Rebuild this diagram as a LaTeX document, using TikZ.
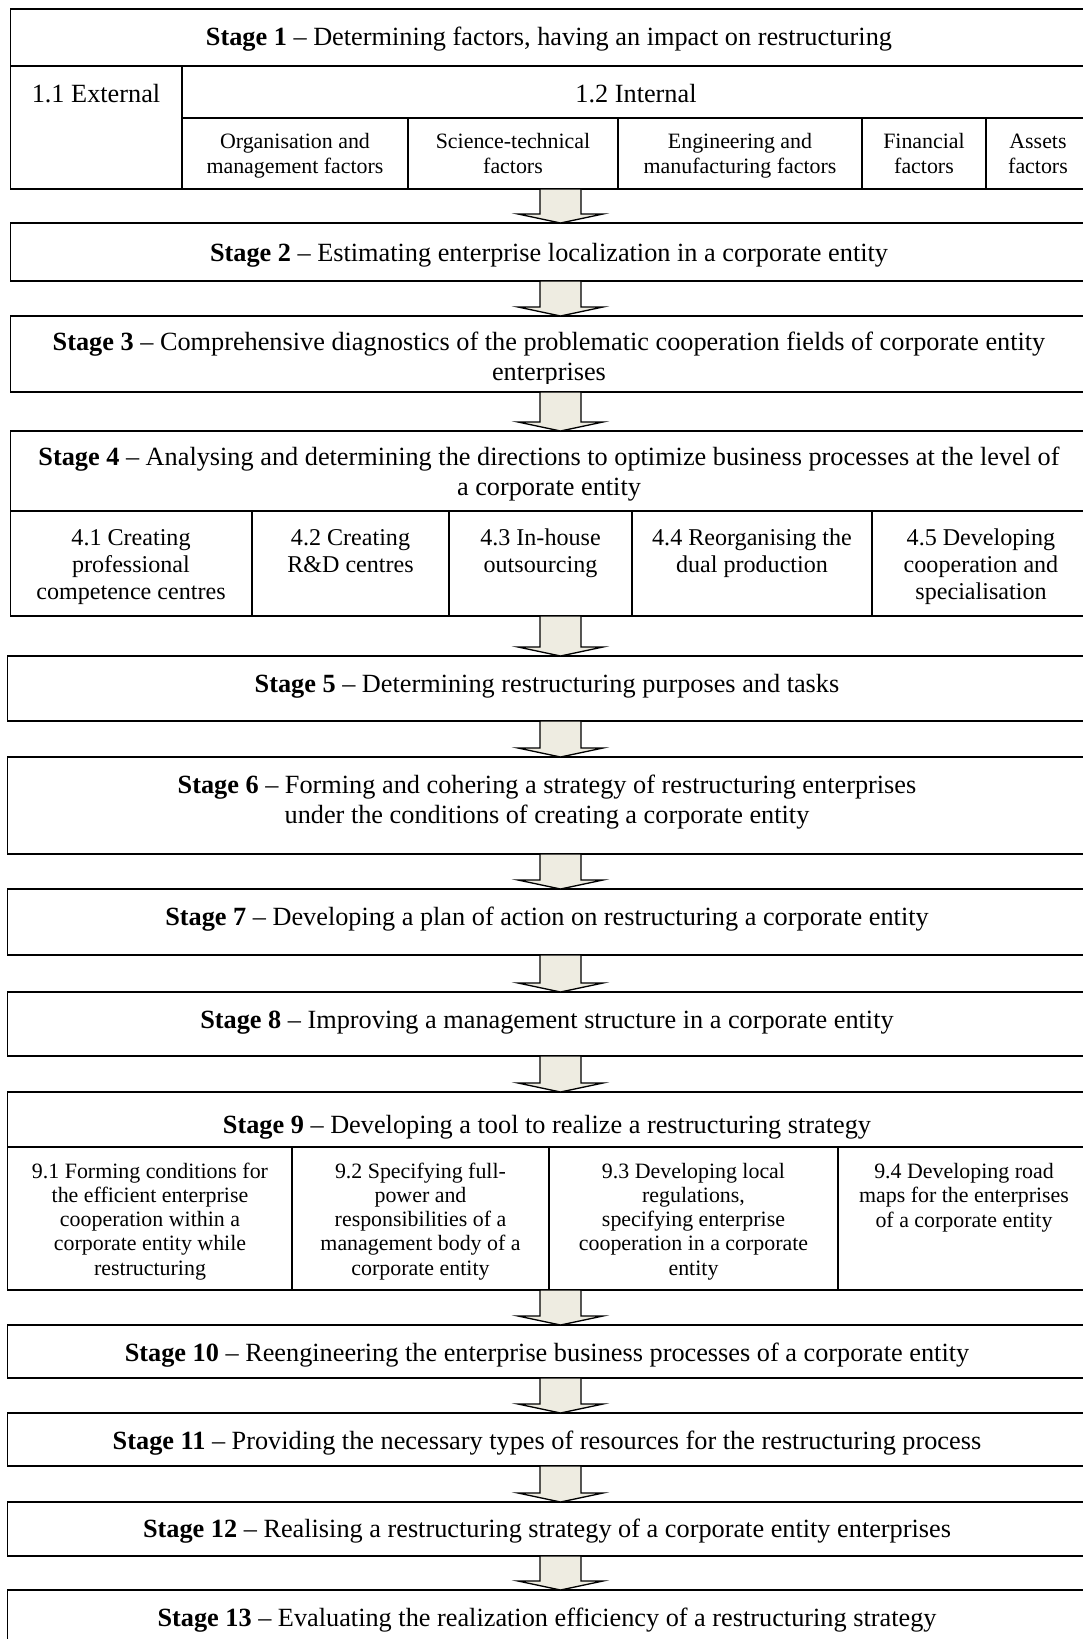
\documentclass[tikz,border=0pt]{standalone}
\usepackage{fontspec}
\setmainfont{Liberation Serif}
\usetikzlibrary{fit,calc}
\definecolor{arrowfill}{HTML}{EEECE1}

\tikzset{
  box/.style={draw, line width=0.8pt, inner sep=0pt, outer sep=0pt},
  head/.style={font=\fontsize{12}{13.7}\selectfont, inner sep=0pt, align=center, anchor=base},
  factor/.style={font=\fontsize{10}{11.4}\selectfont, inner sep=0pt, align=center, anchor=base},
  direction/.style={font=\fontsize{11}{12.3}\selectfont, inner sep=0pt, align=center, anchor=base},
  tool/.style={font=\fontsize{10}{11}\selectfont, inner sep=0pt, align=center, anchor=base},
  blockarrow/.style={draw, line width=0.6pt, fill=arrowfill, line join=miter},
}

\begin{document}
\begin{tikzpicture}[x=0.4566pt, y=-0.4566pt]
  \useasboundingbox (0,0) rectangle (1083,1639);
  \coordinate (ax) at (560.5,0);

  % stage 1 (text nodes sit on the baseline of their last line)
  \node[box, fit={(10.5,9) (1090,189)}] (st1) {};
  \node[box, fit={(10.5,66) (182,189)}] (ext) {};
  \node[box, fit={(182,66) (1090,118)}] (int) {};
  \node[box, fit={(182,118) (408,189)}] (int1) {};
  \node[box, fit={(408,118) (618,189)}] (int2) {};
  \node[box, fit={(618,118) (862,189)}] (int3) {};
  \node[box, fit={(862,118) (986,189)}] (int4) {};
  \node[box, fit={(986,118) (1090,189)}] (int5) {};
  \node[head] (h1) at (549,45) {\textbf{Stage 1} -- Determining factors, having an impact on restructuring};
  \node[head] (h11) at (96,102) {1.1 External};
  \node[head] (h12) at (636,102) {1.2 Internal};
  \node[factor] (f1) at (295,173) {Organisation and\\management factors};
  \node[factor] (f2) at (513,173) {Science-technical\\factors};
  \node[factor] (f3) at (740,173) {Engineering and\\manufacturing factors};
  \node[factor] (f4) at (924,173) {Financial\\factors};
  \node[factor] (f5) at (1038,173) {Assets\\factors};

  % stages 2 and 3
  \node[box, fit={(10.5,223) (1090,281)}] (st2) {};
  \node[head] (h2) at (549,261) {\textbf{Stage 2} -- Estimating enterprise localization in a corporate entity};
  \node[box, fit={(10.5,316) (1090,392)}] (st3) {};
  \begin{scope}
    \clip (10.5,316) rectangle (1090,383);
    \node[head] (h3) at (549,380) {\textbf{Stage 3} -- Comprehensive diagnostics of the problematic cooperation fields of corporate entity\\enterprises};
  \end{scope}

  % stage 4
  \node[box, fit={(10.5,431) (1090,616)}] (st4) {};
  \node[box, fit={(10.5,511) (252,616)}] (dir1) {};
  \node[box, fit={(252,511) (449,616)}] (dir2) {};
  \node[box, fit={(449,511) (632,616)}] (dir3) {};
  \node[box, fit={(632,511) (872,616)}] (dir4) {};
  \node[box, fit={(872,511) (1090,616)}] (dir5) {};
  \node[head] (h4) at (549,495) {\textbf{Stage 4} -- Analysing and determining the directions to optimize business processes at the level of\\a corporate entity};
  \node[direction] (d1) at (131,599) {4.1 Creating\\professional\\competence centres};
  \node[direction] (d2) at (350.5,572) {4.2 Creating\\R\&D centres};
  \node[direction] (d3) at (540.5,572) {4.3 In-house\\outsourcing};
  \node[direction] (d4) at (752,572) {4.4 Reorganising the\\dual production};
  \node[direction] (d5) at (981,599) {4.5 Developing\\cooperation and\\specialisation};

  % stages 5 to 8
  \node[box, fit={(7.5,656) (1090,721)}] (st5) {};
  \node[head] (h5) at (547,692) {\textbf{Stage 5} -- Determining restructuring purposes and tasks};
  \node[box, fit={(7.5,757) (1090,854)}] (st6) {};
  \node[head] (h6) at (547,823) {\textbf{Stage 6} -- Forming and cohering a strategy of restructuring enterprises\\under the conditions of creating a corporate entity};
  \node[box, fit={(7.5,889) (1090,955)}] (st7) {};
  \node[head] (h7) at (547,925) {\textbf{Stage 7} -- Developing a plan of action on restructuring a corporate entity};
  \node[box, fit={(7.5,992) (1090,1056)}] (st8) {};
  \node[head] (h8) at (547,1028) {\textbf{Stage 8} -- Improving a management structure in a corporate entity};

  % stage 9
  \node[box, fit={(7.5,1092) (1090,1290)}] (st9) {};
  \node[box, fit={(7.5,1147) (292,1290)}] (tool1) {};
  \node[box, fit={(292,1147) (549,1290)}] (tool2) {};
  \node[box, fit={(549,1147) (838,1290)}] (tool3) {};
  \node[box, fit={(838,1147) (1090,1290)}] (tool4) {};
  \node[head] (h9) at (547,1133) {\textbf{Stage 9} -- Developing a tool to realize a restructuring strategy};
  \node[tool] (k1) at (150,1275) {9.1 Forming conditions for\\the efficient enterprise\\cooperation within a\\corporate entity while\\restructuring};
  \node[tool] (k2) at (420.5,1275) {9.2 Specifying full-\\power and\\responsibilities of a\\management body of a\\corporate entity};
  \node[tool] (k3) at (693.5,1275) {9.3 Developing local\\regulations,\\specifying enterprise\\cooperation in a corporate\\entity};
  \node[tool] (k4) at (964,1227) {9.4 Developing road\\maps for the enterprises\\of a corporate entity};

  % stages 10 to 13
  \node[box, fit={(7.5,1325) (1090,1378)}] (st10) {};
  \node[head] (h10) at (547,1361) {\textbf{Stage 10} -- Reengineering the enterprise business processes of a corporate entity};
  \node[box, fit={(7.5,1413) (1090,1466)}] (st11) {};
  \node[head] (h11s) at (547,1449) {\textbf{Stage 11} -- Providing the necessary types of resources for the restructuring process};
  \node[box, fit={(7.5,1502) (1090,1556)}] (st12) {};
  \node[head] (h12s) at (547,1537) {\textbf{Stage 12} -- Realising a restructuring strategy of a corporate entity enterprises};
  \node[box, fit={(7.5,1590) (1090,1660)}] (st13) {};
  \node[head] (h13) at (547,1626) {\textbf{Stage 13} -- Evaluating the realization efficiency of a restructuring strategy};

  % arrows between stages
  \foreach \p/\q in {st1/st2, st2/st3, st3/st4, st4/st5, st5/st6, st6/st7, st7/st8, st8/st9, st9/st10, st10/st11, st11/st12, st12/st13}
    \draw[blockarrow] ($(ax |- \p.south)+(-20.5,0)$) -- ($(ax |- \q.north)+(-20.5,-9)$) -- ++(-22,0)
      -- (ax |- \q.north) -- ($(ax |- \q.north)+(42.5,-9)$) -- ++(-22,0) -- ($(ax |- \p.south)+(20.5,0)$) -- cycle;
\end{tikzpicture}
\end{document}
